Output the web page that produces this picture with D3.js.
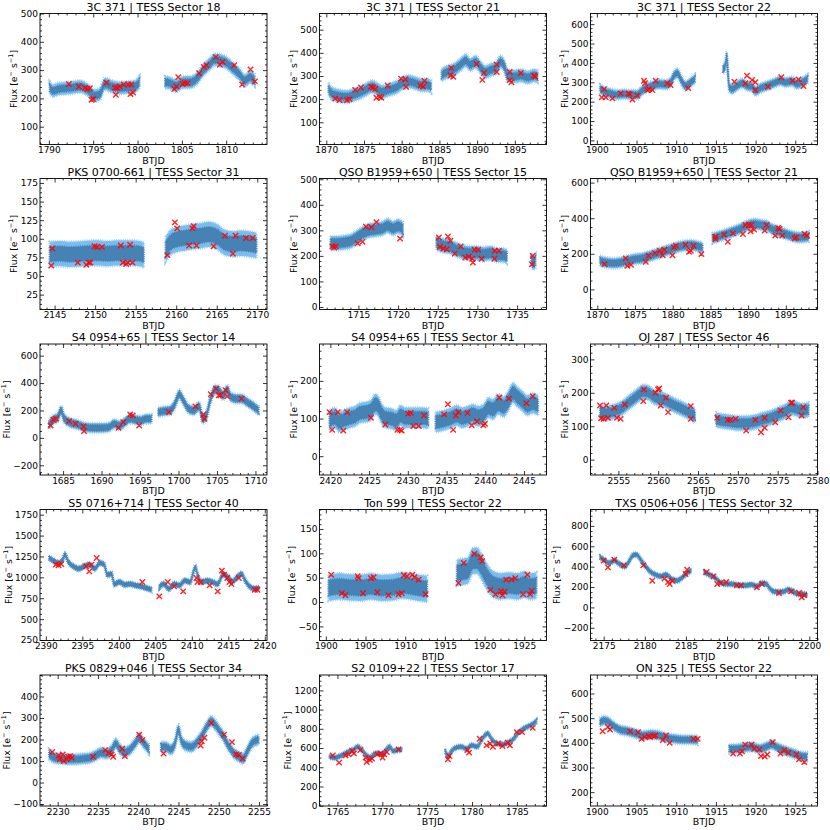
<!DOCTYPE html>
<html>
<head>
<meta charset="utf-8">
<script src="https://cdn.jsdelivr.net/npm/d3@7"></script>
<style>
body{margin:0;background:#fff}
text{font-family:"DejaVu Sans",sans-serif}
</style>
</head>
<body>
<div id="chart"></div>
<script>
//---panel titles / axes---
var titles=["3C 371 | TESS Sector 18","3C 371 | TESS Sector 21","3C 371 | TESS Sector 22",
 "PKS 0700-661 | TESS Sector 31","QSO B1959+650 | TESS Sector 15","QSO B1959+650 | TESS Sector 21",
 "S4 0954+65 | TESS Sector 14","S4 0954+65 | TESS Sector 41","OJ 287 | TESS Sector 46",
 "S5 0716+714 | TESS Sector 40","Ton 599 | TESS Sector 22","TXS 0506+056 | TESS Sector 32",
 "PKS 0829+046 | TESS Sector 34","S2 0109+22 | TESS Sector 17","ON 325 | TESS Sector 22"]

var xDomains=[[1789.0,1814.6],[1869.1,1899.2],[1899.2,1927.8],[2143.2,2171.2],[1710.1,1738.7],[1869.1,1899.2],
 [1682.0,1711.5],[2418.6,2447.9],[2551.5,2580.0],[2389.2,2420.3],[1899.2,1927.8],[2173.4,2201.0],
 [2227.8,2256.0],[1763.0,1788.3],[1899.2,1927.8]]
var yDomains=[[37,500],[4,570],[-21,655],[5,181],[-10,503],[-113,623],
 [-271,685],[-50,298],[-46,346],[244,1812],[-79,190],[-325,961],
 [-109,500],[-3,1360],[144,675]]

var xTicks=[[1790,1795,1800,1805,1810],[1870,1875,1880,1885,1890,1895],[1900,1905,1910,1915,1920,1925],
 [2145,2150,2155,2160,2165,2170],[1715,1720,1725,1730,1735],[1870,1875,1880,1885,1890,1895],
 [1685,1690,1695,1700,1705,1710],[2420,2425,2430,2435,2440,2445],[2555,2560,2565,2570,2575,2580],
 [2390,2395,2400,2405,2410,2415,2420],[1900,1905,1910,1915,1920,1925],[2175,2180,2185,2190,2195,2200],
 [2230,2235,2240,2245,2250,2255],[1765,1770,1775,1780,1785],[1900,1905,1910,1915,1920,1925]]
var yTicks=[[100,200,300,400,500],[100,200,300,400,500],[0,100,200,300,400,500,600],
 [25,50,75,100,125,150,175],[0,100,200,300,400,500],[0,200,400,600],
 [-200,0,200,400,600],[0,100,200],[0,100,200,300],
 [250,500,750,1000,1250,1500,1750],[-50,0,50,100,150],[-200,0,200,400,600,800],
 [-100,0,100,200,300,400],[0,200,400,600,800,1000,1200],[200,300,400,500,600]]

//---scatter of the flux (dark) and error (light) around the curve, e-/s---
var bandDark=[12,15,14,10,18,18,22,17,13,25,16,18,14,18,11]
var bandLight=[22,28,25,17,28,30,35,27,22,32,27,26,25,26,19]

//---light curves: segments of [BTJD, flux]---
var flux1=[[[1790.1,237],[1790.5,227],[1791.05,233],[1792.4,237],[1793.5,242],[1794.4,230],[1795.2,210],[1795.75,215],[1796.3,251],[1797.1,242],[1798.0,237],[1798.9,239],[1799.7,242],[1800.2,257]],
 [[1803.1,257],[1803.65,254],[1804.4,245],[1805.15,257],[1805.9,257],[1806.65,269],[1807.4,299],[1808.2,323],[1808.7,337],[1809.3,335],[1809.85,329],[1810.8,305],[1811.5,285],[1812.1,263],[1812.7,275],[1813.2,265]]]
var marks1=[[1792.26,251],[1793.38,242],[1794.06,237],[1794.32,233],[1794.62,236],[1794.81,195],[1795.0,198],[1796.5,255],[1797.44,237],[1797.56,213],[1797.7,237],[1798.0,242],[1798.46,249],[1798.95,249],[1799.3,249],[1799.2,215],[1799.5,221],[1804.14,233],[1804.4,242],[1804.59,275],[1805.08,251],[1805.34,254],[1805.64,254],[1806.95,289],[1807.48,311],[1807.78,317],[1808.83,346],[1809.29,319],[1809.59,329],[1810.9,317],[1811.8,249],[1812.74,302],[1813.23,260]]

var flux2=[[[1870.3,244],[1870.7,225],[1871.6,215],[1872.7,210],[1873.6,218],[1874.5,229],[1875.4,244],[1876.1,254],[1876.7,244],[1877.4,232],[1878.3,240],[1879.2,250],[1880.1,269],[1880.9,276],[1881.8,269],[1882.7,261],[1883.4,261],[1883.9,254]],
 [[1885.3,305],[1886.0,317],[1886.9,327],[1887.8,349],[1888.5,367],[1889.1,349],[1889.8,361],[1890.5,335],[1891.1,317],[1891.8,327],[1892.5,335],[1893.1,361],[1893.7,335],[1894.0,302],[1894.9,298],[1895.8,302],[1896.7,294],[1897.6,302],[1898.0,298]]]
var marks2=[[1871.18,203],[1871.76,196],[1872.74,196],[1873.09,200],[1873.84,240],[1874.6,250],[1875.93,254],[1876.19,250],[1876.5,244],[1876.64,206],[1877.08,210],[1877.3,206],[1878.14,259],[1879.92,288],[1880.49,286],[1880.58,253],[1882.49,259],[1882.84,254],[1883.02,279],[1886.57,335],[1886.48,302],[1886.83,297],[1889.94,352],[1890.69,283],[1890.91,313],[1892.6,349],[1892.6,317],[1894.32,317],[1894.32,282],[1894.55,273],[1895.79,313],[1897.56,302],[1897.69,297]]

var flux3=[[[1900.41,265],[1900.92,253],[1901.75,243],[1902.59,236],[1903.43,239],[1904.27,236],[1905.1,236],[1905.65,256],[1906.15,270],[1906.99,282],[1907.83,291],[1908.66,288],[1909.29,300],[1909.71,334],[1910.13,347],[1910.67,308],[1911.18,282],[1911.8,300],[1912.35,317]],
 [[1915.91,369],[1916.12,378],[1916.28,412],[1916.37,433],[1916.49,360],[1916.7,274],[1917.04,265],[1917.67,282],[1918.29,295],[1918.92,282],[1919.55,277],[1919.97,256],[1920.6,270],[1921.44,282],[1922.27,295],[1923.11,308],[1923.74,300],[1924.58,305],[1925.2,291],[1925.83,300],[1926.54,317]]]
var marks3=[[1900.62,222],[1900.92,265],[1901.13,222],[1901.96,217],[1903.01,243],[1903.97,243],[1904.14,239],[1904.48,211],[1905.1,231],[1905.94,308],[1906.07,295],[1906.36,260],[1906.57,265],[1906.99,260],[1907.41,308],[1908.87,295],[1909.29,286],[1911.51,270],[1917.33,303],[1918.71,295],[1918.92,334],[1919.55,312],[1919.97,300],[1919.97,260],[1921.56,277],[1923.24,326],[1924.66,308],[1925.41,315],[1926.04,281]]

var flux4=[[[2144.4,79],[2145.5,80],[2147,79],[2148.5,80],[2150,81],[2151.5,80],[2153,81],[2154.5,81],[2155.5,80],[2156.0,78]],
 [[2158.7,86],[2159.3,95],[2160,99],[2161,101],[2162,103],[2163,104],[2164,106],[2165,103],[2166,95],[2167,93],[2168,94],[2169,93],[2169.9,91]]]
var marks4=[[2144.59,64],[2144.71,87],[2147.86,68],[2148.92,65],[2149.21,68],[2149.41,68],[2149.94,90],[2150.23,89],[2150.84,89],[2153.17,91],[2153.42,68],[2153.83,66],[2154.03,68],[2154.32,92],[2154.6,68],[2158.9,78],[2159.84,122],[2160.12,114],[2161.59,91],[2162.0,114],[2162.17,117],[2162.5,91],[2164.62,90],[2166.01,104],[2166.99,80],[2167.32,104],[2168.62,101],[2169.44,101]]

var flux5=[[[1711.5,250],[1712.37,250],[1713.25,253],[1714.12,259],[1714.78,272],[1715.44,286],[1716.31,299],[1717.18,303],[1718.06,308],[1718.71,318],[1719.37,308],[1720.03,316],[1720.6,305]],
 [[1724.84,250],[1725.49,242],[1726.37,237],[1727.24,226],[1728.12,216],[1728.99,211],[1729.87,211],[1730.74,207],[1731.62,211],[1732.49,203],[1733.15,203],[1733.71,197]],
 [[1736.78,184],[1737.04,174],[1737.3,180]]]
var marks5=[[1711.72,237],[1711.94,233],[1712.16,237],[1714.91,249],[1715.52,255],[1715.96,314],[1716.66,312],[1717.27,332],[1720.25,268],[1725.14,272],[1725.27,236],[1725.71,229],[1726.15,226],[1726.28,276],[1726.59,259],[1727.15,209],[1727.9,237],[1728.47,193],[1728.9,197],[1729.34,189],[1729.43,174],[1729.65,224],[1730.08,224],[1730.52,189],[1732.14,189],[1732.18,220],[1732.71,220],[1736.86,167],[1736.95,200]]

var flux6=[[[1870.36,160],[1871.2,151],[1872.13,147],[1873.07,151],[1874.0,160],[1874.93,170],[1875.87,174],[1876.8,185],[1877.73,198],[1878.67,211],[1879.6,223],[1880.53,236],[1881.47,245],[1882.4,249],[1883.33,242],[1883.94,236]],
 [[1885.29,287],[1886.13,298],[1887.07,311],[1888.0,325],[1888.93,340],[1889.87,358],[1890.8,368],[1891.74,362],[1892.44,358],[1893.14,340],[1894.07,325],[1895.0,311],[1895.94,298],[1896.87,292],[1898.03,298]]]
var marks6=[[1870.97,142],[1873.77,174],[1874.0,132],[1874.47,138],[1876.43,155],[1876.8,189],[1877.64,204],[1878.29,217],[1878.67,192],[1878.9,223],[1879.97,192],[1880.16,236],[1880.44,245],[1881.7,251],[1882.17,211],[1882.4,217],[1882.77,245],[1883.8,198],[1885.67,296],[1885.67,283],[1886.83,308],[1887.3,268],[1888.0,315],[1889.31,311],[1889.63,362],[1890.1,362],[1890.33,326],[1890.43,362],[1890.8,336],[1892.2,330],[1892.44,362],[1893.6,302],[1893.98,345],[1894.16,340],[1894.53,302],[1896.17,287],[1896.4,292],[1897.48,311],[1897.8,302]]

var flux7=[[[1683.17,98],[1683.72,132],[1684.27,147],[1684.76,200],[1685.1,147],[1685.79,115],[1686.83,98],[1687.86,78],[1688.89,73],[1689.93,73],[1690.96,78],[1691.65,103],[1692.34,90],[1693.03,115],[1693.72,139],[1694.41,132],[1695.1,127],[1695.79,139],[1696.48,139]],
 [[1697.37,188],[1698.2,196],[1698.89,200],[1699.44,237],[1700.13,318],[1700.61,274],[1701.3,213],[1701.99,200],[1702.68,230],[1703.16,139],[1703.57,156],[1704.06,262],[1704.75,352],[1705.23,347],[1705.78,311],[1706.33,352],[1706.81,298],[1707.5,286],[1708.19,286],[1708.88,262],[1709.57,237],[1710.4,200]]]
var marks7=[[1683.38,90],[1683.72,132],[1684.07,139],[1685.79,122],[1686.62,103],[1687.65,83],[1687.72,49],[1692.2,73],[1692.82,115],[1693.72,171],[1694.06,164],[1694.89,90],[1698.75,188],[1702.2,230],[1703.23,171],[1703.37,139],[1704.2,318],[1704.88,359],[1705.23,311],[1705.44,311],[1706.13,347],[1706.33,303],[1708.19,286]]

var flux8=[[[2419.9,95],[2420.59,102],[2421.13,91],[2421.82,97],[2422.5,102],[2423.19,106],[2423.87,115],[2424.56,117],[2425.24,122],[2425.79,138],[2426.2,132],[2426.61,113],[2427.16,102],[2427.84,100],[2428.53,95],[2429.07,108],[2429.69,102],[2430.38,102],[2431.06,102],[2431.95,102],[2432.63,100]],
 [[2433.59,91],[2434.28,93],[2434.96,97],[2435.65,102],[2436.33,108],[2437.02,102],[2437.7,106],[2438.38,111],[2439.07,106],[2439.75,111],[2440.44,129],[2440.99,124],[2441.67,138],[2442.36,131],[2442.9,144],[2443.59,168],[2444.07,159],[2444.75,147],[2445.44,135],[2446.12,141],[2446.81,135]]]
var marks8=[[2419.9,117],[2420.24,70],[2420.96,117],[2421.68,68],[2422.16,117],[2425.24,102],[2427.09,84],[2428.66,70],[2429.0,70],[2429.21,68],[2430.03,113],[2430.38,115],[2430.72,80],[2431.4,80],[2432.09,108],[2434.69,111],[2435.17,138],[2435.85,70],[2436.19,108],[2436.53,117],[2437.7,115],[2438.25,82],[2438.93,92],[2439.75,82],[2439.96,86],[2441.81,156],[2443.04,153],[2445.3,141],[2446.12,159]]

var flux9=[[[2552.69,142],[2553.49,139],[2554.15,142],[2554.81,147],[2555.48,155],[2556.14,168],[2556.8,180],[2557.47,193],[2558.13,203],[2558.79,200],[2559.45,188],[2560.12,183],[2560.78,178],[2561.44,170],[2562.1,162],[2562.77,155],[2563.43,147],[2564.09,139],[2564.62,132]],
 [[2567.27,119],[2568.07,115],[2569.06,112],[2570.06,109],[2571.05,109],[2572.05,112],[2573.04,119],[2574.04,125],[2575.03,135],[2576.02,145],[2576.69,155],[2577.35,152],[2578.01,147],[2578.87,149]]]
var marks9=[[2552.69,162],[2552.83,124],[2553.16,122],[2553.49,162],[2553.69,125],[2554.48,155],[2554.81,125],[2555.28,122],[2555.81,165],[2558.13,175],[2558.2,210],[2559.65,200],[2559.98,210],[2560.12,213],[2560.32,162],[2560.98,185],[2561.24,142],[2564.09,160],[2564.09,122],[2567.41,125],[2568.73,119],[2569.06,119],[2569.73,122],[2571.05,87],[2572.18,119],[2572.91,82],[2573.37,95],[2573.37,125],[2574.7,112],[2575.36,147],[2576.36,127],[2576.69,170],[2576.82,170],[2578.01,132],[2578.21,157]]

var flux10=[[[2390.44,1232],[2391.02,1200],[2391.74,1172],[2392.32,1212],[2392.61,1272],[2393.05,1192],[2393.78,1132],[2394.5,1104],[2395.23,1132],[2395.96,1152],[2396.68,1104],[2397.41,1172],[2397.99,1152],[2398.43,1032],[2399.01,1040],[2399.37,920],[2400.1,944],[2400.83,912],[2401.55,920],[2402.28,904],[2403.01,892],[2403.73,872],[2404.46,852]],
 [[2405.55,880],[2406.13,920],[2406.86,864],[2407.58,920],[2408.31,904],[2409.04,960],[2409.76,944],[2410.49,1120],[2410.78,1032],[2411.36,944],[2412.09,960],[2412.81,944],[2413.54,920],[2414.27,1032],[2414.85,1012],[2415.58,952],[2416.3,1012],[2416.81,1040],[2417.32,960],[2417.9,892],[2418.63,864],[2419.21,872]]]
var marks10=[[2391.38,1152],[2391.74,1144],[2392.11,1160],[2395.52,1132],[2395.96,1072],[2396.25,1152],[2396.97,1232],[2403.22,944],[2405.55,772],[2406.71,944],[2407.58,892],[2408.82,832],[2410.64,992],[2410.78,944],[2411.22,944],[2412.45,904],[2413.54,832],[2414.12,1080],[2414.41,1032],[2414.85,992],[2415.14,944],[2415.43,920],[2416.45,992],[2418.63,852],[2418.99,852]]

var flux11=[[[1900.34,29],[1901.67,32],[1903.01,30],[1904.34,29],[1905.68,32],[1907.02,29],[1908.35,30],[1909.69,34],[1910.69,32],[1911.7,29],[1912.76,27]],
 [[1916.51,60],[1917.17,62],[1917.84,64],[1918.51,84],[1919.05,85],[1919.58,73],[1920.25,53],[1921.05,37],[1922.05,32],[1923.05,34],[1924.06,32],[1925.06,36],[1925.73,32],[1926.53,34]]]
var marks11=[[1900.67,56],[1902.01,18],[1902.47,14],[1904.01,53],[1904.14,49],[1904.68,18],[1905.68,49],[1906.02,51],[1906.48,20],[1907.89,14],[1909.16,16],[1909.56,18],[1909.83,55],[1910.23,53],[1910.89,56],[1911.16,51],[1911.7,46],[1912.57,16],[1916.71,39],[1917.38,80],[1918.71,99],[1919.51,92],[1919.71,84],[1920.72,25],[1921.38,16],[1922.05,22],[1922.25,14],[1922.52,21],[1922.72,46],[1923.39,46],[1923.86,49],[1924.86,16],[1925.39,56],[1925.73,16],[1925.93,23]]

var flux12=[[[2174.56,492],[2175.0,469],[2175.65,436],[2176.29,459],[2176.93,426],[2177.57,403],[2178.09,452],[2178.54,511],[2178.98,518],[2179.5,469],[2180.01,413],[2180.65,354],[2181.3,321],[2181.94,305],[2182.58,321],[2183.22,282],[2183.86,262],[2184.5,289],[2185.15,338],[2185.6,361]],
 [[2187.2,348],[2187.84,321],[2188.48,295],[2189.13,249],[2189.77,230],[2190.41,230],[2191.05,223],[2191.69,216],[2192.34,216],[2192.98,223],[2193.62,207],[2194.26,239],[2194.78,230],[2195.22,184],[2195.67,157],[2196.32,151],[2196.96,157],[2197.47,174],[2198.11,151],[2198.76,131],[2199.27,131],[2199.72,125]]]
var marks12=[[2175.0,459],[2175.52,393],[2176.29,469],[2177.44,413],[2179.82,413],[2180.91,262],[2182.39,282],[2182.84,249],[2183.03,230],[2183.35,262],[2184.95,328],[2185.15,370],[2187.52,348],[2188.36,305],[2188.81,230],[2189.25,239],[2189.9,249],[2191.18,216],[2191.69,216],[2193.62,197],[2194.26,230],[2196.32,141],[2197.79,157],[2198.76,141],[2199.08,98],[2199.4,118]]

var flux13=[[[2228.92,131],[2229.58,115],[2230.44,111],[2231.29,108],[2232.08,108],[2233.07,111],[2234.06,115],[2234.72,126],[2235.38,138],[2236.04,135],[2236.7,151],[2237.22,182],[2237.68,157],[2238.34,142],[2239.0,154],[2239.66,185],[2240.12,208],[2240.65,185],[2241.31,157]],
 [[2242.82,166],[2243.42,166],[2244.07,154],[2244.6,185],[2244.99,246],[2245.39,192],[2245.92,172],[2246.58,166],[2247.24,185],[2247.9,218],[2248.55,262],[2249.08,285],[2249.54,269],[2250.0,246],[2250.53,218],[2251.19,172],[2251.85,138],[2252.51,120],[2253.04,111],[2253.5,142],[2254.16,185],[2254.95,200]]]
var marks13=[[2229.32,142],[2230.11,126],[2230.24,108],[2230.63,131],[2230.77,100],[2231.09,108],[2231.29,120],[2231.56,123],[2231.75,115],[2234.39,120],[2235.9,151],[2236.37,138],[2236.7,131],[2236.89,120],[2238.01,157],[2238.34,123],[2240.12,223],[2240.52,197],[2243.15,135],[2247.76,172],[2247.9,192],[2248.23,208],[2249.08,277],[2250.66,223],[2251.65,188],[2252.18,131],[2252.51,128],[2252.97,111]]

var flux14=[[[1764.12,510],[1764.71,500],[1765.31,517],[1765.9,545],[1766.37,569],[1766.84,586],[1767.26,614],[1767.67,586],[1768.14,534],[1768.62,500],[1769.03,534],[1769.44,545],[1769.92,534],[1770.39,579],[1770.8,614],[1771.22,569],[1771.69,579],[1772.16,586]],
 [[1777.01,569],[1777.31,517],[1777.72,569],[1778.19,603],[1778.78,614],[1779.37,593],[1779.96,628],[1780.56,614],[1781.15,697],[1781.74,752],[1782.21,690],[1782.8,648],[1783.39,638],[1783.98,655],[1784.57,690],[1785.17,759],[1785.88,810],[1786.47,834],[1787.18,879]]]
var marks14=[[1764.48,524],[1765.19,448],[1765.9,524],[1766.25,534],[1766.66,569],[1766.84,545],[1767.55,579],[1768.14,500],[1768.26,455],[1768.62,476],[1768.85,490],[1769.44,534],[1769.8,545],[1770.03,500],[1770.21,534],[1770.51,559],[1771.81,586],[1777.31,483],[1777.48,517],[1779.49,579],[1779.67,552],[1780.85,697],[1781.62,628],[1782.03,648],[1782.33,614],[1782.92,648],[1783.39,621],[1783.98,655],[1784.22,628],[1784.99,766],[1785.58,766],[1786.76,810]]

var flux15=[[[1900.4,483],[1900.86,491],[1901.39,487],[1902.06,470],[1902.86,454],[1903.86,447],[1904.85,438],[1905.85,430],[1906.85,434],[1907.85,430],[1908.84,420],[1909.84,416],[1910.84,413],[1911.84,413],[1912.7,411]],
 [[1916.69,376],[1917.49,376],[1918.49,380],[1919.49,384],[1920.48,376],[1921.35,384],[1922.01,393],[1922.81,380],[1923.61,370],[1924.47,360],[1925.14,353],[1925.8,346],[1926.47,344]]]
var marks15=[[1900.73,447],[1901.39,464],[1901.66,454],[1904.19,447],[1905.19,443],[1905.65,416],[1906.05,424],[1906.51,427],[1906.71,424],[1907.18,427],[1907.38,430],[1908.31,411],[1908.71,430],[1909.18,400],[1912.17,416],[1912.7,416],[1917.16,357],[1918.02,357],[1918.29,366],[1918.69,393],[1919.49,393],[1919.82,376],[1920.48,373],[1920.68,346],[1921.15,344],[1921.48,353],[1922.15,403],[1923.14,357],[1923.61,370],[1924.14,360],[1925.14,353],[1925.47,333],[1926.14,322]]

var fluxAll=[flux1,flux2,flux3,flux4,flux5,flux6,flux7,flux8,flux9,flux10,flux11,flux12,flux13,flux14,flux15]
var marksAll=[marks1,marks2,marks3,marks4,marks5,marks6,marks7,marks8,marks9,marks10,marks11,marks12,marks13,marks14,marks15]

//---layout---
var W=830,H=830
var colLeft=[40,319.5,590.5], rowTop=[13.5,178.5,344,509.5,675]
var PW=227, PH=131
var lightBlue="#78bdee", darkBlue="#4682b4"
var tickFont=9

var svg=d3.select("#chart").append("svg")
 .attr("width",W).attr("height",H)
svg.append("rect").attr("width",W).attr("height",H).attr("fill","#fff")

var fmt=function(d){return d<0?"\u2212"+Math.abs(d):String(d)}

//---matplotlib style auto minor ticks---
function minorTicks(major,dom)
{
  var step=major[1]-major[0]
  var m=step/Math.pow(10,Math.floor(Math.log10(step)))
  var n=(Math.abs(m-1)<1e-9||Math.abs(m-5)<1e-9)?5:4
  var ms=step/n,out=[]
  for(var k=Math.ceil(dom[0]/ms-1e-9);k*ms<=dom[1]+1e-9;k++)
  {
    var v=+(k*ms).toFixed(6)
    if(major.indexOf(v)<0) out.push(v)
  }
  return out
}

function styleAxis(sel)
{
  sel.select(".domain").remove()
  sel.attr("font-family","DejaVu Sans, sans-serif").attr("font-size",tickFont)
  sel.selectAll("line").attr("stroke","#000").attr("stroke-width",0.8)
  sel.selectAll("text").attr("fill","#000")
}

function drawPanel(i)
{
  var g=svg.append("g")
   .attr("transform","translate("+colLeft[i%3]+","+rowTop[Math.floor(i/3)]+")")
  var x=d3.scaleLinear().domain(xDomains[i]).range([0,PW])
  var y=d3.scaleLinear().domain(yDomains[i]).range([PH,0])

  g.append("clipPath").attr("id","clip"+i)
   .append("rect").attr("width",PW).attr("height",PH)
  var plot=g.append("g").attr("clip-path","url(#clip"+i+")")

  var lightArea=d3.area().curve(d3.curveMonotoneX)
   .x(function(d){return x(d[0])})
   .y0(function(d){return y(d[1]-bandLight[i])})
   .y1(function(d){return y(d[1]+bandLight[i])})
  var darkArea=d3.area().curve(d3.curveMonotoneX)
   .x(function(d){return x(d[0])})
   .y0(function(d){return y(d[1]-bandDark[i])})
   .y1(function(d){return y(d[1]+bandDark[i])})

  fluxAll[i].forEach(function(seg){
    //---fuzzy edge of the error band---
    plot.append("path").attr("d",lightArea(seg)).attr("fill",lightBlue)
     .attr("stroke","#8fcaf3").attr("stroke-width",2.6)
     .attr("stroke-dasharray","0.7 1.1")
    plot.append("path").attr("d",darkArea(seg)).attr("fill",darkBlue)
     .attr("stroke",darkBlue).attr("stroke-width",2)
     .attr("stroke-dasharray","0.8 1")
  })

  plot.selectAll("path.mark").data(marksAll[i]).enter().append("path")
   .attr("class","mark")
   .attr("transform",function(d){return "translate("+x(d[0])+","+y(d[1])+")"})
   .attr("d","M-2.7,-2.7L2.7,2.7M-2.7,2.7L2.7,-2.7")
   .attr("stroke","#f00").attr("stroke-opacity",0.85).attr("stroke-width",1.4)
   .attr("fill","none")

  var xMinor=minorTicks(xTicks[i],xDomains[i])
  var yMinor=minorTicks(yTicks[i],yDomains[i])

  //---major + minor ticks, all four sides, inward---
  g.append("g").attr("transform","translate(0,"+PH+")")
   .call(d3.axisBottom(x).tickValues(xTicks[i]).tickSize(-4).tickPadding(2.5).tickFormat(fmt)).call(styleAxis)
  g.append("g").attr("transform","translate(0,"+PH+")")
   .call(d3.axisBottom(x).tickValues(xMinor).tickSize(-2).tickFormat("")).call(styleAxis)
  g.append("g")
   .call(d3.axisTop(x).tickValues(xTicks[i]).tickSize(-4).tickFormat("")).call(styleAxis)
  g.append("g")
   .call(d3.axisTop(x).tickValues(xMinor).tickSize(-2).tickFormat("")).call(styleAxis)
  var yAx=g.append("g")
   .call(d3.axisLeft(y).tickValues(yTicks[i]).tickSize(-4).tickPadding(2).tickFormat(fmt)).call(styleAxis)
  g.append("g")
   .call(d3.axisLeft(y).tickValues(yMinor).tickSize(-2).tickFormat("")).call(styleAxis)
  g.append("g").attr("transform","translate("+PW+",0)")
   .call(d3.axisRight(y).tickValues(yTicks[i]).tickSize(-4).tickFormat("")).call(styleAxis)
  g.append("g").attr("transform","translate("+PW+",0)")
   .call(d3.axisRight(y).tickValues(yMinor).tickSize(-2).tickFormat("")).call(styleAxis)

  g.append("rect").attr("width",PW).attr("height",PH)
   .attr("fill","none").attr("stroke","#000").attr("stroke-width",0.9)

  //---labels---
  g.append("text").attr("x",PW/2).attr("y",-3).attr("text-anchor","middle")
   .attr("font-size",11).attr("fill","#000").text(titles[i])
  g.append("text").attr("x",PW/2).attr("y",PH+19).attr("text-anchor","middle")
   .attr("font-size",9.5).attr("fill","#000").text("BTJD")

  var minX=0
  yAx.selectAll("text").each(function(){
    minX=Math.min(minX,this.getBBox().x)
  })
  var yl=g.append("text").attr("transform","translate("+(minX-3.5)+","+(PH/2)+") rotate(-90)")
   .attr("text-anchor","middle").attr("font-size",9.3).attr("fill","#000")
  yl.append("tspan").text("Flux [e")
  yl.append("tspan").attr("dy",-4).attr("font-size",6.5).text("\u2212")
  yl.append("tspan").attr("dy",4).text(" s")
  yl.append("tspan").attr("dy",-4).attr("font-size",6.5).text("\u22121")
  yl.append("tspan").attr("dy",4).text("]")
}

for(var i=0;i<titles.length;i++) drawPanel(i)
</script>
</body>
</html>
